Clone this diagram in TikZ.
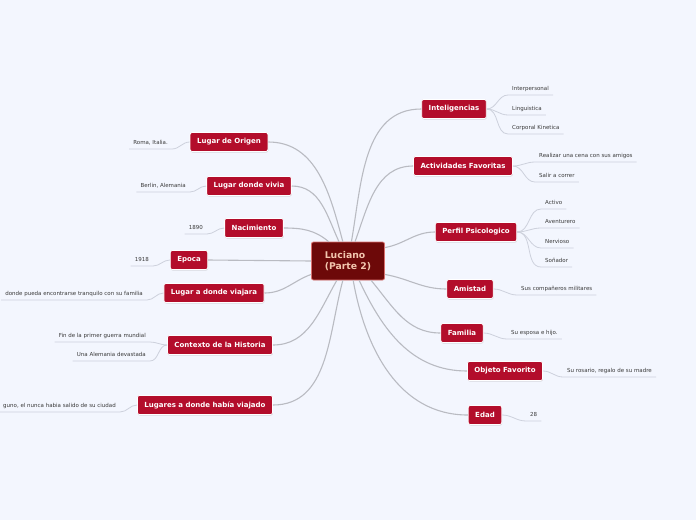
\documentclass[tikz,border=0pt]{standalone}
\usepackage{fontspec}
\setmainfont{DejaVu Sans}
\usetikzlibrary{shadows}

\definecolor{bgblue}{HTML}{F3F6FE}
\definecolor{topicred}{HTML}{B30D2B}
\definecolor{rootred}{HTML}{6D0909}
\definecolor{rootedge}{HTML}{D9706E}
\definecolor{roottext}{HTML}{F2C6AE}
\definecolor{linkgray}{HTML}{B9BBC2}
\definecolor{leafline}{HTML}{CDD1DC}
\definecolor{leaftext}{HTML}{3A3A3A}

\begin{document}
\begin{tikzpicture}[
    x=1pt, y=-1pt,
    root/.style={draw=rootedge, fill=rootred, rounded corners=2pt, line width=0.8pt,
                 minimum width=73pt, minimum height=38pt, align=left, text=roottext,
                 font=\fontsize{9.3}{11.5}\selectfont\bfseries},
    topic/.style={draw=white, fill=topicred, rounded corners=2pt, line width=0.8pt,
                  minimum height=19pt, inner xsep=7pt, text=white,
                  font=\fontsize{7}{8}\selectfont\bfseries,
                  drop shadow={shadow xshift=0.4pt, shadow yshift=-1pt, opacity=0.25}},
    leaf/.style={inner xsep=4pt, inner ysep=3pt, text=leaftext, text height=4.2pt, text depth=1.1pt,
                 font=\fontsize{5.5}{6.5}\selectfont},
    link/.style={linkgray, line width=1.1pt},
    sub/.style={leafline, line width=0.8pt},
  ]

  % ---------- canvas ----------
  \fill[bgblue] (0,0) rectangle (696,520);
  \useasboundingbox (0,0) rectangle (696,520);

  % ---------- central topic ----------
  \node[root] (c) at (348,261) {Luciano\\(Parte 2)};

  % ---------- right branches ----------
  \node[topic] (intel) at (454,109) {Inteligencias};
  \node[topic] (activ) at (463,166) {Actividades Favoritas};
  \node[topic] (perfil) at (476,232) {Perfil Psicologico};
  \node[topic] (amist) at (470,289) {Amistad};
  \node[topic] (famil) at (462,333) {Familia};
  \node[topic] (objeto) at (505,371) {Objeto Favorito};
  \node[topic] (edad) at (485,415) {Edad};

  % ---------- left branches ----------
  \node[topic] (origen) at (229,142) {Lugar de Origen};
  \node[topic] (vivia) at (249,186) {Lugar donde vivia};
  \node[topic] (nacim) at (254,228) {Nacimiento};
  \node[topic] (epoca) at (189,260) {Epoca};
  \node[topic] (viajara) at (214,293) {Lugar a donde viajara};
  \node[topic] (contexto) at (220,345) {Contexto de la Historia};
  \node[topic] (lugares) at (205,405) {Lugares a donde había viajado};

  % ---------- links from the centre ----------
  \draw[link] (c.80) to[out=80, in=180] (intel.west);
  \draw[link] (c.70) to[out=70, in=180] (activ.west);
  \draw[link] (c.20) to[out=10, in=180] (perfil.west);
  \draw[link] (c.-20) to[out=-10, in=180] (amist.west);
  \draw[link] (c.-40) to[out=-50, in=180] (famil.west);
  \draw[link] (c.-60) to[out=-65, in=180] (objeto.west);
  \draw[link] (c.-75) to[out=-80, in=180] (edad.west);
  \draw[link] (origen.east) to[out=0, in=105] (c.105);
  \draw[link] (vivia.east) to[out=0, in=115] (c.115);
  \draw[link] (nacim.east) to[out=0, in=140] (c.135);
  \draw[link] (epoca.east) -- (c.west);
  \draw[link] (viajara.east) to[out=0, in=200] (c.200);
  \draw[link] (contexto.east) to[out=0, in=240] (c.240);
  \draw[link] (lugares.east) to[out=0, in=255] (c.255);

  % ---------- right leaves ----------
  \node[leaf, anchor=south west] (interp) at (508,95) {Interpersonal};
  \node[leaf, anchor=south west] (ling) at (508,115) {Linguistica};
  \node[leaf, anchor=south west] (corp) at (508,134) {Corporal Kinetica};
  \node[leaf, anchor=south west] (cena) at (535,162) {Realizar una cena con sus amigos};
  \node[leaf, anchor=south west] (correr) at (535,182) {Salir a correr};
  \node[leaf, anchor=south west] (activo) at (541,209) {Activo};
  \node[leaf, anchor=south west] (aventu) at (541,228) {Aventurero};
  \node[leaf, anchor=south west] (nervio) at (541,248) {Nervioso};
  \node[leaf, anchor=south west] (sonad) at (541,267) {Soñador};
  \node[leaf, anchor=south west] (milit) at (517,295) {Sus compañeros militares};
  \node[leaf, anchor=south west] (esposa) at (507,339) {Su esposa e hijo.};
  \node[leaf, anchor=south west] (rosario) at (563,377) {Su rosario, regalo de su madre};
  \node[leaf, anchor=south west] (anios) at (526,421) {28};

  \foreach \hub/\kid in {intel/interp, intel/ling, intel/corp, activ/cena, activ/correr,
                         perfil/activo, perfil/aventu, perfil/nervio, perfil/sonad,
                         amist/milit, famil/esposa, objeto/rosario, edad/anios}
    \draw[sub] (\hub.east) to[out=0, in=180] (\kid.south west) -- (\kid.south east);

  % ---------- left leaves ----------
  \node[leaf, anchor=south east] (roma) at (172,149) {Roma, Italia.};
  \node[leaf, anchor=south east] (berlin) at (190,192) {Berlin, Alemania};
  \node[leaf, anchor=south east] (anio1) at (207,234) {1890};
  \node[leaf, anchor=south east] (anio2) at (153,266) {1918};
  \node[leaf, anchor=south east] (famlug) at (147,300) {donde pueda encontrarse tranquilo con su familia};
  \node[leaf, anchor=south east] (guerra) at (150,342) {Fin de la primer guerra mundial};
  \node[leaf, anchor=south east] (devast) at (150,361) {Una Alemania devastada};
  \node[leaf, anchor=south east] (ciudad) at (120,412) {guno, el nunca habia salido de su ciudad};

  \foreach \hub/\kid in {origen/roma, vivia/berlin, nacim/anio1, epoca/anio2,
                         viajara/famlug, contexto/guerra, contexto/devast, lugares/ciudad}
    \draw[sub] (\hub.west) to[out=180, in=0] (\kid.south east) -- (\kid.south west);

\end{tikzpicture}
\end{document}
